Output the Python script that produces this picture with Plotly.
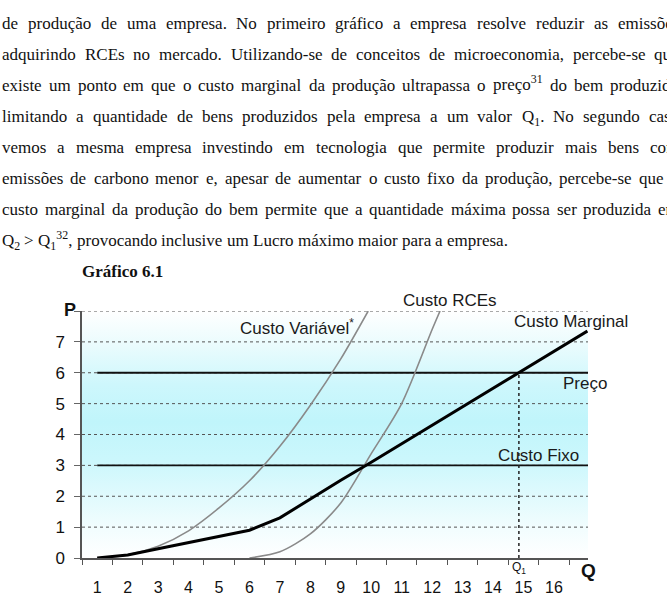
import re
import plotly.graph_objects as go

# ---------------- data ----------------
q_cm = [1, 2, 3, 4, 5, 6, 7, 8, 9, 10, 11, 12, 13, 14, 15, 16, 17.1]
custo_marginal = [0, 0.1, 0.3, 0.5, 0.7, 0.9, 1.3, 1.92, 2.52, 3.1, 3.7, 4.3, 4.9, 5.5, 6.1, 6.7, 7.35]
q_cv = [1, 2, 3, 4, 5, 6, 7, 8, 9, 9.9]
custo_variavel = [0, 0.1, 0.38, 0.88, 1.62, 2.5, 3.62, 4.95, 6.45, 8.0]
q_rce = [6, 7, 8, 9, 10, 11, 12, 12.26]
custo_rce = [0, 0.2, 0.78, 1.78, 3.38, 5.0, 7.4, 8.0]
q_lines = [1, 17.12]
preco = 6
custo_fixo = 3
q1 = 14.85
q_ticks = list(range(1, 17))
q_labels = [str(v) for v in q_ticks]
p_ticks = list(range(0, 9))
p_labels = [str(v) for v in range(0, 8)] + [""]

BODY_LINES = [
    "de produção de uma empresa. No primeiro gráfico a empresa resolve reduzir as emissões",
    "adquirindo RCEs no mercado. Utilizando-se de conceitos de microeconomia, percebe-se que",
    "existe um ponto em que o custo marginal da produção ultrapassa o preço<sup>31</sup> do bem produzido",
    "limitando a quantidade de bens produzidos pela empresa a um valor Q<sub>1</sub>. No segundo caso",
    "vemos a mesma empresa investindo em tecnologia que permite produzir mais bens com",
    "emissões de carbono menor e, apesar de aumentar o custo fixo da produção, percebe-se que o",
    "custo marginal da produção do bem permite que a quantidade máxima possa ser produzida em",
    "Q<sub>2</sub> &gt; Q<sub>1</sub><sup>32</sup>, provocando inclusive um Lucro máximo maior para a empresa.",
]
CAPTION = "Gráfico 6.1"

# ---------------- layout helpers ----------------
W, H = 667, 613
ML, MR, MT, MB = 82, 79, 311, 55
PW, PH = W - ML - MR, H - MT - MB
X0, X1 = 0.5, 17.12


def px_x(px):
    return (px - ML) / PW


def px_y(py):
    return (H - MB - py) / PH


TNR = {' ': 250, 'a': 444, 'b': 500, 'c': 444, 'd': 500, 'e': 444, 'f': 333, 'g': 500, 'h': 500,
       'i': 278, 'j': 278, 'k': 500, 'l': 278, 'm': 778, 'n': 500, 'o': 500, 'p': 500, 'q': 500,
       'r': 333, 's': 389, 't': 278, 'u': 500, 'v': 500, 'w': 722, 'x': 500, 'y': 500, 'z': 444,
       'A': 722, 'C': 667, 'E': 611, 'G': 722, 'L': 611, 'N': 722, 'Q': 722, 'R': 667, 'U': 722,
       ',': 250, '.': 250, '-': 333, '>': 564,
       'ç': 444, 'ã': 444, 'á': 444, 'â': 444, 'é': 444, 'ê': 444, 'í': 278, 'ó': 500, 'õ': 500, 'ú': 500}


def word_width(word, size):
    w = 0.0
    for m in re.finditer(r'<(sup|sub)>(.*?)</\1>|([^<]+)', word):
        txt = m.group(2) if m.group(1) else m.group(3)
        txt = txt.replace('&gt;', '>')
        s = size * (0.7 if m.group(1) else 1.0)
        w += sum(TNR.get(ch, 500) for ch in txt) / 1000 * s
    return w


BODY_SIZE = 17
LEFT, RIGHT = 2, 679
LINE0, LSTEP = 23.5, 31
SERIF = 'Liberation Serif, Times New Roman, serif'

annotations = []
for i, line in enumerate(BODY_LINES):
    words = line.split(' ')
    widths = [word_width(wd, BODY_SIZE) for wd in words]
    if i < len(BODY_LINES) - 1:
        gap = (RIGHT - LEFT - sum(widths)) / (len(words) - 1)
    else:
        gap = 0.25 * BODY_SIZE
    x = LEFT
    y = LINE0 + i * LSTEP
    for wd, ww in zip(words, widths):
        dy = 0
        has_sup, has_sub = '<sup>' in wd, '<sub>' in wd
        if has_sup and not has_sub:
            dy = -3
        elif has_sub and not has_sup:
            dy = 1
        annotations.append(dict(
            text=wd, xref='paper', yref='paper', x=px_x(x), y=px_y(y + dy),
            xanchor='left', yanchor='middle', showarrow=False, borderpad=0, borderwidth=0,
            font=dict(family=SERIF, size=BODY_SIZE, color='#111')))
        x += ww + gap

annotations.append(dict(
    text='<b>' + CAPTION + '</b>', xref='paper', yref='paper', x=px_x(82), y=px_y(LINE0 + 8 * LSTEP),
    xanchor='left', yanchor='middle', showarrow=False, borderpad=0, borderwidth=0,
    font=dict(family=SERIF, size=BODY_SIZE, color='#111')))

SANS = 'Liberation Sans, Arial, sans-serif'
label_font = dict(family=SANS, size=17, color='#1a1a1a')
chart_labels = [
    ("Custo Variável<sup>*</sup>", 7.55, 7.49),
    ("Custo Marginal", 16.56, 7.65),
    ("Preço", 17.01, 5.65),
    ("Custo Fixo", 15.49, 3.33),
]
for txt, x, y in chart_labels:
    annotations.append(dict(text=txt, x=x, y=y, xref='x', yref='y', showarrow=False,
                            xanchor='center', yanchor='middle', font=label_font))

# labels placed outside the axis ranges (paper coordinates)
annotations.append(dict(text='Custo RCEs', x=px_x(450), y=px_y(300), xref='paper', yref='paper',
                        showarrow=False, xanchor='center', yanchor='middle', font=label_font))
annotations.append(dict(text='<b>P</b>', x=px_x(70), y=px_y(310), xref='paper', yref='paper', showarrow=False,
                        xanchor='center', yanchor='middle', font=dict(family=SANS, size=18, color='#111')))
annotations.append(dict(text='<b>Q</b>', x=px_x(588), y=px_y(570), xref='paper', yref='paper', showarrow=False,
                        xanchor='center', yanchor='middle', font=dict(family=SANS, size=19, color='#111')))
annotations.append(dict(text='Q<sub>1</sub>', x=px_x(519), y=px_y(568), xref='paper', yref='paper',
                        showarrow=False, xanchor='center', yanchor='middle',
                        font=dict(family=SANS, size=12, color='#111')))

# ---------------- figure ----------------
fig = go.Figure()

fig.add_trace(go.Scatter(
    x=[X0, X1, X1, X0, X0], y=[0, 0, 8, 8, 0], mode='lines', fill='toself', line=dict(width=0),
    fillgradient=dict(type='vertical', start=0, stop=8,
                      colorscale=[[0, '#ffffff'], [0.12, '#f2fdfe'], [0.25, '#e0fafd'],
                                  [0.4, '#cbf7fc'], [0.55, '#c0f5fb'], [0.7, '#cdf7fc'],
                                  [0.85, '#e8fbfd'], [1, '#ffffff']]),
    hoverinfo='skip', showlegend=False))

# dotted horizontal grid lines (drawn above the gradient)
for v in p_ticks[1:]:
    fig.add_trace(go.Scatter(x=[X0, X1], y=[v, v], mode='lines',
                             line=dict(color='#555', width=1, dash='dot'),
                             hoverinfo='skip', showlegend=False))

fig.add_trace(go.Scatter(x=q_lines, y=[preco, preco], mode='lines',
                         line=dict(color='#111', width=1.8), showlegend=False))
fig.add_trace(go.Scatter(x=q_lines, y=[custo_fixo, custo_fixo], mode='lines',
                         line=dict(color='#111', width=1.8), showlegend=False))
fig.add_trace(go.Scatter(x=[q1, q1], y=[0, preco], mode='lines',
                         line=dict(color='#222', width=1.5, dash='dot'), showlegend=False))
fig.add_trace(go.Scatter(x=q_cv, y=custo_variavel, mode='lines',
                         line=dict(color='#8a8a8a', width=1.6, shape='spline', smoothing=0.8),
                         showlegend=False))
fig.add_trace(go.Scatter(x=q_rce, y=custo_rce, mode='lines',
                         line=dict(color='#8a8a8a', width=1.6, shape='spline', smoothing=0.8),
                         showlegend=False))
fig.add_trace(go.Scatter(x=q_cm, y=custo_marginal, mode='lines',
                         line=dict(color='#000', width=3), showlegend=False))

fig.update_layout(
    width=W, height=H, paper_bgcolor='white', plot_bgcolor='rgba(0,0,0,0)',
    margin=dict(l=ML, r=MR, t=MT, b=MB, autoexpand=False),
    showlegend=False, annotations=annotations,
    xaxis=dict(range=[X0, X1], tickmode='array', tickvals=q_ticks, ticktext=q_labels,
               ticks='', showgrid=False, zeroline=False, showline=True, linecolor='#555',
               linewidth=1.5, ticklabelstandoff=14,
               tickfont=dict(family=SANS, size=16, color='#111'),
               minor=dict(tickmode='array', tickvals=[v - 0.5 for v in q_ticks] + [16.5],
                          ticks='outside', ticklen=5, tickcolor='#555', tickwidth=1, showgrid=False)),
    yaxis=dict(range=[0, 8], tickmode='array', tickvals=p_ticks, ticktext=p_labels,
               ticks='outside', ticklen=6, tickcolor='#666', tickwidth=1,
               showgrid=False, zeroline=False, showline=True, linecolor='#555', linewidth=1.5,
               ticklabelstandoff=6, tickfont=dict(family=SANS, size=17, color='#111')),
)

fig.write_html("out.html")
